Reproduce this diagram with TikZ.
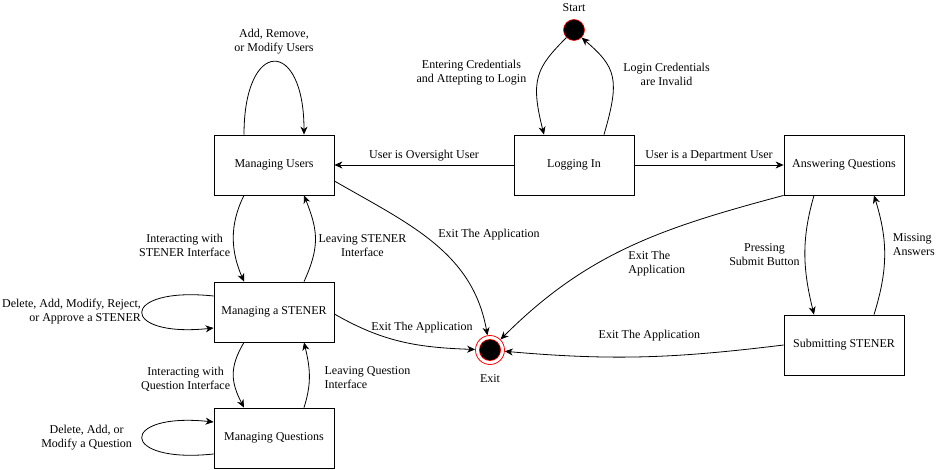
\documentclass[tikz,border=0pt]{standalone}
\usepackage{fontspec}
\setmainfont{Liberation Serif}
\usepackage{tikz}
\usetikzlibrary{arrows.meta, positioning}
\tikzset{
    statenode/.style = {draw, rectangle, line width=0.8pt, minimum width=120pt, minimum height=60pt,
      inner sep=0pt, node distance=0em},
    textnode/.style  = {draw=none, fill=none, rectangle, inner sep=3pt, align=center},
    startnode/.style = {draw=red, fill=black, circle, line width=0.6pt, minimum size=21pt,
      inner sep=0pt, node distance=0em},
    exitnode/.style = {draw=red, circle, line width=0.8pt, minimum size=29pt, inner sep=0pt,
      node distance=0em, path picture={
        \fill[red] (path picture bounding box.center) circle (11pt);
        \fill[black] (path picture bounding box.center) circle (10.2pt);}},
    connect/.style = {black, line width=0.8pt, -{Stealth[length=8pt, width=7pt, inset=2.5pt]}},
    every node/.style = {font=\fontsize{12}{14}\selectfont}
}

\begin{document}
\begin{tikzpicture}[x=1pt, y=1pt]
    \useasboundingbox (0,0) rectangle (937,-470);

    \node [name = MU, statenode] at (274,-165) {Managing Users};
    \node [name = LI, statenode, right of = MU, xshift = 300pt] {Logging In};
    \node [name = AQ, statenode, right of = LI, xshift = 270pt] {Answering Questions};
    \node [name = MS, statenode, below of = MU, yshift = -147pt] {Managing a STENER};
    \node [name = MQ, statenode, below of = MS, yshift = -126pt] {Managing Questions};
    \node [name = SS, statenode, below of = AQ, yshift = -180pt] {Submitting STENER};
    \node [name = start, startnode, above of = LI, yshift = 135pt,
        label={[yshift=4pt]above:Start}] {};
    \node [name = exit, exitnode, label={[yshift=-6pt]below:Exit}] at (490,-350) {};

    % login
    \draw [connect] (start.south west) .. controls +(-30,-30) and +(-14,55) .. ([xshift=-30pt]LI.north)
        node [textnode, pos=0.5, anchor=east, xshift=-9pt, yshift=4pt]
        {Entering Credentials\\and Attepting to Login};
    \draw [connect] ([xshift=30pt]LI.north) .. controls +(16,55) and +(35,-30) .. (start.south east)
        node [textnode, pos=0.5, anchor=west, xshift=8pt, yshift=2pt] {Login Credentials\\are Invalid};
    \draw [connect] (LI) -- node [above] {User is Oversight User} (MU);
    \draw [connect] (LI) -- node [above] {User is a Department User} (AQ);

    % oversight side
    \draw [connect] ([xshift=-30pt]MU.north) .. controls +(0,97) and +(0,97) .. ([xshift=30pt]MU.north)
        node [textnode, pos=0.5, above, yshift=4pt] {Add, Remove,\\or Modify Users};
    \draw [connect] ([xshift=-30pt]MU.south) .. controls +(-15,-30) and +(-13,30) .. ([xshift=-30pt]MS.north)
        node [textnode, pos=0.5, anchor=east, yshift=-7pt] {Interacting with\\STENER Interface};
    \draw [connect] ([xshift=30pt]MS.north) .. controls +(16,35) and +(14,-35) .. ([xshift=30pt]MU.south)
        node [textnode, pos=0.5, anchor=west, yshift=-7pt] {Leaving STENER\\Interface};
    \draw [connect] ([yshift=16pt]MS.west) .. controls +(-95,10) and +(-95,-10) .. ([yshift=-16pt]MS.west)
        node [textnode, pos=0.5, left, align=right, xshift=2pt] {Delete, Add, Modify, Reject,\\or Approve a STENER};
    \draw [connect] ([xshift=-30pt]MS.south) .. controls +(-15,-25) and +(-13,25) .. ([xshift=-30pt]MQ.north)
        node [textnode, pos=0.5, anchor=east, yshift=-4pt] {Interacting with\\Question Interface};
    \draw [connect] ([xshift=30pt]MQ.north) .. controls +(8,25) and +(6,-25) .. ([xshift=30pt]MS.south)
        node [textnode, pos=0.5, anchor=west, align=left, xshift=12pt, yshift=-3pt] {Leaving Question\\Interface};
    \draw [connect] ([yshift=-16pt]MQ.west) .. controls +(-95,-10) and +(-95,10) .. ([yshift=16pt]MQ.west)
        node [textnode, pos=0.5, left, xshift=-7pt] {Delete, Add, or\\Modify a Question};

    % department side
    \draw [connect] ([xshift=-30pt]AQ.south) .. controls +(-13,-45) and +(-11,45) .. ([xshift=-30pt]SS.north)
        node [textnode, pos=0.5, anchor=east, xshift=-2pt] {Pressing\\Submit Button};
    \draw [connect] ([xshift=30pt]SS.north) .. controls +(14,45) and +(14,-45) .. ([xshift=30pt]AQ.south)
        node [textnode, pos=0.5, anchor=west, align=left, xshift=5pt, yshift=10pt] {Missing\\Answers};

    % exits
    \draw [connect] ([yshift=-16pt]MU.east) to [out=-30, in=100]
        node [textnode, pos=0.5, anchor=west, xshift=2pt, yshift=8pt] {Exit The Application} (exit);
    \draw [connect] ([yshift=-2pt]MS.east) to [out=-30, in=178]
        node [textnode, pos=0.5, above, xshift=20pt, yshift=5pt] {Exit The Application} (exit);
    \draw [connect] (AQ.south west) to [out=195, in=45]
        node [textnode, pos=0.5, anchor=west, align=left, xshift=-5pt, yshift=-17pt] {Exit The\\Application} (exit);
    \draw [connect] (SS.west) to [out=187, in=-5]
        node [textnode, pos=0.5, above, xshift=5pt, yshift=12pt] {Exit The Application} (exit);
\end{tikzpicture}
\end{document}
